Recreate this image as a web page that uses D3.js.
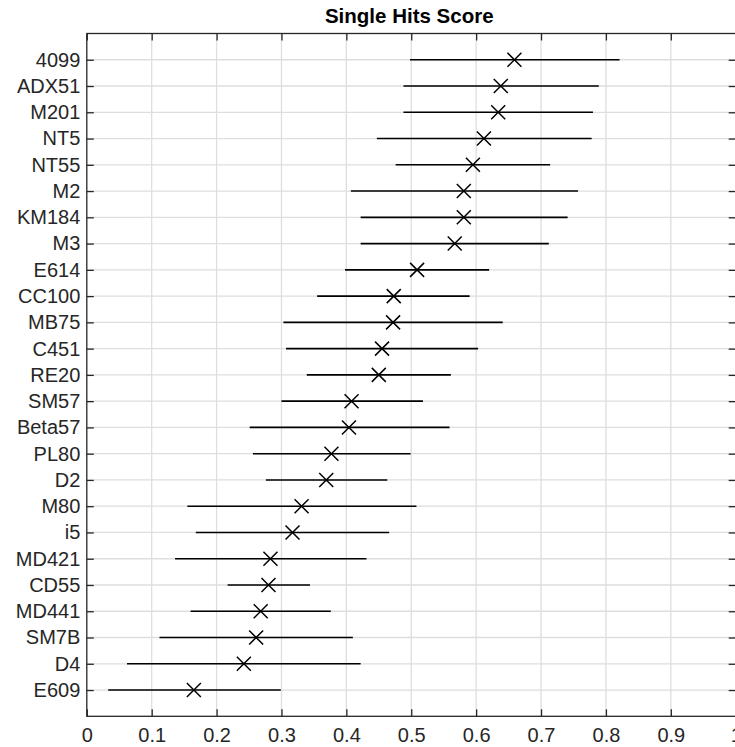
<!DOCTYPE html>
<html>
<head>
<meta charset="utf-8">
<script src="https://cdn.jsdelivr.net/npm/d3@7"></script>
<style>
  body { margin: 0; background: #fff; }
  svg { display: block; font-family: "Liberation Sans", Arial, Helvetica, sans-serif; }
</style>
</head>
<body>
<div id="chart"></div>
<script>
// Categories, top to bottom
const names = ['4099', 'ADX51', 'M201', 'NT5', 'NT55', 'M2', 'KM184', 'M3', 'E614', 'CC100',
  'MB75', 'C451', 'RE20', 'SM57', 'Beta57', 'PL80', 'D2', 'M80', 'i5', 'MD421',
  'CD55', 'MD441', 'SM7B', 'D4', 'E609'];
// Score (X marker)
const scores = [0.659, 0.638, 0.634, 0.612, 0.595, 0.581, 0.581, 0.567, 0.509, 0.473,
  0.472, 0.455, 0.450, 0.408, 0.404, 0.377, 0.369, 0.331, 0.317, 0.283,
  0.280, 0.268, 0.261, 0.242, 0.165];
// Interval lower / upper bounds
const lower = [0.498, 0.488, 0.488, 0.447, 0.476, 0.407, 0.422, 0.422, 0.398, 0.355,
  0.303, 0.307, 0.339, 0.300, 0.251, 0.256, 0.276, 0.155, 0.168, 0.136,
  0.217, 0.160, 0.112, 0.062, 0.033];
const upper = [0.821, 0.789, 0.780, 0.778, 0.714, 0.757, 0.741, 0.712, 0.620, 0.590,
  0.641, 0.603, 0.561, 0.518, 0.559, 0.499, 0.463, 0.508, 0.466, 0.431,
  0.344, 0.376, 0.410, 0.422, 0.299];
const xTicks = [0, 0.1, 0.2, 0.3, 0.4, 0.5, 0.6, 0.7, 0.8, 0.9, 1];

const rows = names.map((name, i) => ({ name, score: scores[i], lo: lower[i], hi: upper[i] }));

const width = 735;
const height = 747;
const plotLeft = 86.8;
const plotRight = 735.7;
const plotTop = 33.5;
const plotBottom = 716.3;
const AXIS_COLOR = '#262626';
const GRID_COLOR = '#dedede';
const FONT_SIZE = 20;

const svg = d3.select('#chart')
  .append('svg')
  .attr('width', width)
  .attr('height', height);

const xscale = d3.scaleLinear().domain([0, 1]).range([plotLeft, plotRight]);
const yscale = d3.scalePoint().domain(names).range([plotTop, plotBottom]).padding(1);

// Grid lines
const grid = svg.append('g').attr('class', 'grid')
  .attr('stroke', GRID_COLOR).attr('stroke-width', 1.3);
grid.selectAll('.vgrid')
  .data(xTicks.slice(1, -1))
  .enter().append('line')
  .attr('x1', (d) => xscale(d)).attr('x2', (d) => xscale(d))
  .attr('y1', plotTop).attr('y2', plotBottom);
grid.selectAll('.hgrid')
  .data(names)
  .enter().append('line')
  .attr('x1', plotLeft).attr('x2', plotRight)
  .attr('y1', (d) => yscale(d)).attr('y2', (d) => yscale(d));

// Interval lines
svg.append('g')
  .selectAll('line')
  .data(rows)
  .enter().append('line')
  .attr('x1', (d) => xscale(d.lo))
  .attr('x2', (d) => xscale(d.hi))
  .attr('y1', (d) => yscale(d.name))
  .attr('y2', (d) => yscale(d.name))
  .attr('stroke', '#000')
  .attr('stroke-width', 1.6);

// X markers
svg.append('g')
  .selectAll('path')
  .data(rows)
  .enter().append('path')
  .attr('transform', (d) => `translate(${xscale(d.score)},${yscale(d.name)})`)
  .attr('d', 'M-7,-7L7,7M-7,7L7,-7')
  .attr('fill', 'none')
  .attr('stroke', '#000')
  .attr('stroke-width', 1.5);

// Axes (ticks point inward, MATLAB style)
const fmt = (d) => String(+d.toFixed(1));

function styleAxis(g) {
  g.select('.domain').remove();
  g.selectAll('line').attr('stroke', AXIS_COLOR).attr('stroke-width', 1.3);
  g.selectAll('text').attr('fill', '#262626').style('font-size', `${FONT_SIZE}px`);
}

svg.append('g')
  .attr('transform', `translate(0,${plotBottom})`)
  .call(d3.axisBottom(xscale).tickValues(xTicks).tickFormat(fmt).tickSizeInner(-7).tickSizeOuter(0).tickPadding(12))
  .call(styleAxis);

svg.append('g')
  .attr('transform', `translate(0,${plotTop})`)
  .call(d3.axisTop(xscale).tickValues(xTicks).tickFormat('').tickSizeInner(-7).tickSizeOuter(0))
  .call(styleAxis);

svg.append('g')
  .attr('transform', `translate(${plotLeft},0)`)
  .call(d3.axisLeft(yscale).tickSizeInner(-7).tickSizeOuter(0).tickPadding(6.5))
  .call(styleAxis);

svg.append('g')
  .attr('transform', `translate(${plotRight},0)`)
  .call(d3.axisRight(yscale).tickFormat('').tickSizeInner(-7).tickSizeOuter(0))
  .call(styleAxis);

// Axes box
svg.append('rect')
  .attr('x', plotLeft).attr('y', plotTop)
  .attr('width', plotRight - plotLeft).attr('height', plotBottom - plotTop)
  .attr('fill', 'none')
  .attr('stroke', AXIS_COLOR)
  .attr('stroke-width', 1.3);

// Title
svg.append('text')
  .attr('x', (plotLeft + plotRight) / 2 - 2)
  .attr('y', 23)
  .attr('text-anchor', 'middle')
  .style('font-size', '20.5px')
  .style('font-weight', 'bold')
  .attr('fill', '#000')
  .text('Single Hits Score');
</script>
</body>
</html>
